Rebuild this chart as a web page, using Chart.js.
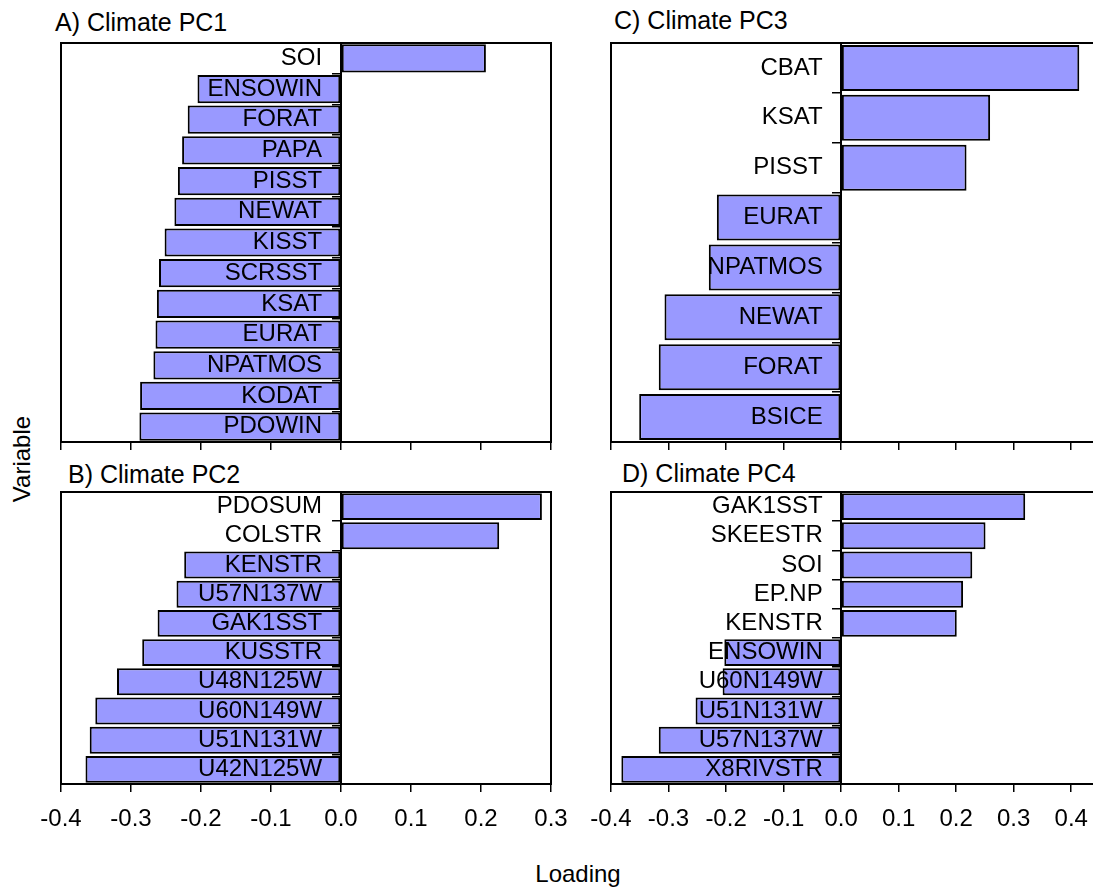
<!DOCTYPE html>
<html>
<head>
<meta charset="utf-8">
<title>Climate PC loadings</title>
<script src="https://cdn.jsdelivr.net/npm/chart.js"></script>
<style>
  body {
    margin: 0;
    width: 1093px;
    height: 888px;
    overflow: hidden;
    position: relative;
    background: #fff;
    font-family: "Liberation Sans", Arial, sans-serif;
    color: #000;
  }
  canvas { position: absolute; }
  .title {
    position: absolute;
    font-size: 25px;
    line-height: 25px;
    white-space: nowrap;
  }
  .axis-title {
    position: absolute;
    font-size: 24px;
    line-height: 24px;
    width: 200px;
    text-align: center;
  }
</style>
</head>
<body>

<div class="title" style="left:55px; top:10px;">A) Climate PC1</div>
<div class="title" style="left:68px; top:462px;">B) Climate PC2</div>
<div class="title" style="left:614px; top:8px;">C) Climate PC3</div>
<div class="title" style="left:622px; top:461px;">D) Climate PC4</div>
<div class="axis-title" style="left:-78px; top:447px; transform: rotate(-90deg);">Variable</div>
<div class="axis-title" style="left:478px; top:862px;">Loading</div>

<canvas id="pc1" width="550" height="416" style="left:31px; top:38px;"></canvas>
<canvas id="pc2" width="550" height="349" style="left:31px; top:487px;"></canvas>
<canvas id="pc3" width="549" height="416" style="left:581px; top:38px;"></canvas>
<canvas id="pc4" width="549" height="349" style="left:581px; top:487px;"></canvas>

<script>
// loadings
const pc1Vars = ['SOI', 'ENSOWIN', 'FORAT', 'PAPA', 'PISST', 'NEWAT', 'KISST', 'SCRSST', 'KSAT', 'EURAT', 'NPATMOS', 'KODAT', 'PDOWIN'];
const pc1Loadings = [0.207, -0.205, -0.219, -0.227, -0.233, -0.238, -0.252, -0.260, -0.263, -0.265, -0.268, -0.287, -0.288];

const pc2Vars = ['PDOSUM', 'COLSTR', 'KENSTR', 'U57N137W', 'GAK1SST', 'KUSSTR', 'U48N125W', 'U60N149W', 'U51N131W', 'U42N125W'];
const pc2Loadings = [0.287, 0.226, -0.224, -0.235, -0.262, -0.284, -0.320, -0.351, -0.359, -0.365];

const pc3Vars = ['CBAT', 'KSAT', 'PISST', 'EURAT', 'NPATMOS', 'NEWAT', 'FORAT', 'BSICE'];
const pc3Loadings = [0.414, 0.259, 0.218, -0.216, -0.230, -0.307, -0.317, -0.351];

const pc4Vars = ['GAK1SST', 'SKEESTR', 'SOI', 'EP.NP', 'KENSTR', 'ENSOWIN', 'U60N149W', 'U51N131W', 'U57N137W', 'X8RIVSTR'];
const pc4Loadings = [0.320, 0.251, 0.228, 0.212, 0.201, -0.203, -0.206, -0.253, -0.317, -0.382];

const leftTicks = [-0.4, -0.3, -0.2, -0.1, 0.0, 0.1, 0.2, 0.3];
const rightTicks = [-0.4, -0.3, -0.2, -0.1, 0.0, 0.1, 0.2, 0.3, 0.4];

Chart.defaults.font.family = "'Liberation Sans', Arial, sans-serif";
Chart.defaults.font.size = 24;
Chart.defaults.color = '#000';

// box round the plot area
const frame = {
  id: 'frame',
  afterDraw(chart) {
    const a = chart.chartArea;
    const ctx = chart.ctx;
    ctx.save();
    ctx.strokeStyle = '#000';
    ctx.lineWidth = 2;
    ctx.strokeRect(a.left, a.top, a.right - a.left, a.bottom - a.top);
    ctx.restore();
  }
};

const noPad = s => { s.paddingTop = 0; s.paddingBottom = 0; };

// labelGap: distance (in loading units) between the names and the zero line
function makePanel(id, vars, loadings, ticks, xMax, showLabels, axisHeight, labelGap) {
  const ctx = document.getElementById(id).getContext('2d');
  return new Chart(ctx, {
    type: 'bar',
    data: {
      labels: vars,
      datasets: [{
        data: loadings,
        backgroundColor: '#9999ff',
        borderColor: '#000',
        borderWidth: 2,
        borderSkipped: false,
        barPercentage: 0.92,
        categoryPercentage: 1
      }]
    },
    options: {
      indexAxis: 'y',
      responsive: false,
      animation: false,
      layout: { padding: { left: 30, right: 30, top: 5, bottom: 0 } },
      plugins: {
        legend: { display: false },
        tooltip: { enabled: false }
      },
      scales: {
        x: {
          type: 'linear',
          min: -0.4,
          max: xMax,
          afterBuildTicks: s => { s.ticks = ticks.map(v => ({ value: v })); },
          afterFit: s => { s.height = axisHeight; s.paddingLeft = 0; s.paddingRight = 0; },
          grid: { drawOnChartArea: false, tickLength: 8, color: '#000', lineWidth: 1.5 },
          border: { color: '#000', width: 2 },
          ticks: {
            display: showLabels,
            padding: 13,
            maxRotation: 0,
            callback: v => v.toFixed(1)
          }
        },
        // zero line with its ticks
        y: {
          type: 'category',
          position: { x: 0 },
          afterFit: noPad,
          grid: { drawOnChartArea: false, tickLength: 8, color: '#000', lineWidth: 1.5, z: 1 },
          border: { display: true, color: '#000', width: 2, z: 1 },
          ticks: { display: false }
        },
        // variable names, drawn over the bars
        names: {
          type: 'category',
          axis: 'y',
          labels: vars,
          offset: true,
          position: { x: -labelGap },
          afterFit: noPad,
          grid: { display: false },
          border: { display: false },
          ticks: { autoSkip: false, z: 2 }
        }
      }
    },
    plugins: [frame]
  });
}

makePanel('pc1', pc1Vars, pc1Loadings, leftTicks, 0.3, false, 12, 0.027);
makePanel('pc2', pc2Vars, pc2Loadings, leftTicks, 0.3, true, 52, 0.027);
makePanel('pc3', pc3Vars, pc3Loadings, rightTicks, 0.45, false, 12, 0.032);
makePanel('pc4', pc4Vars, pc4Loadings, rightTicks, 0.45, true, 52, 0.032);
</script>
</body>
</html>
